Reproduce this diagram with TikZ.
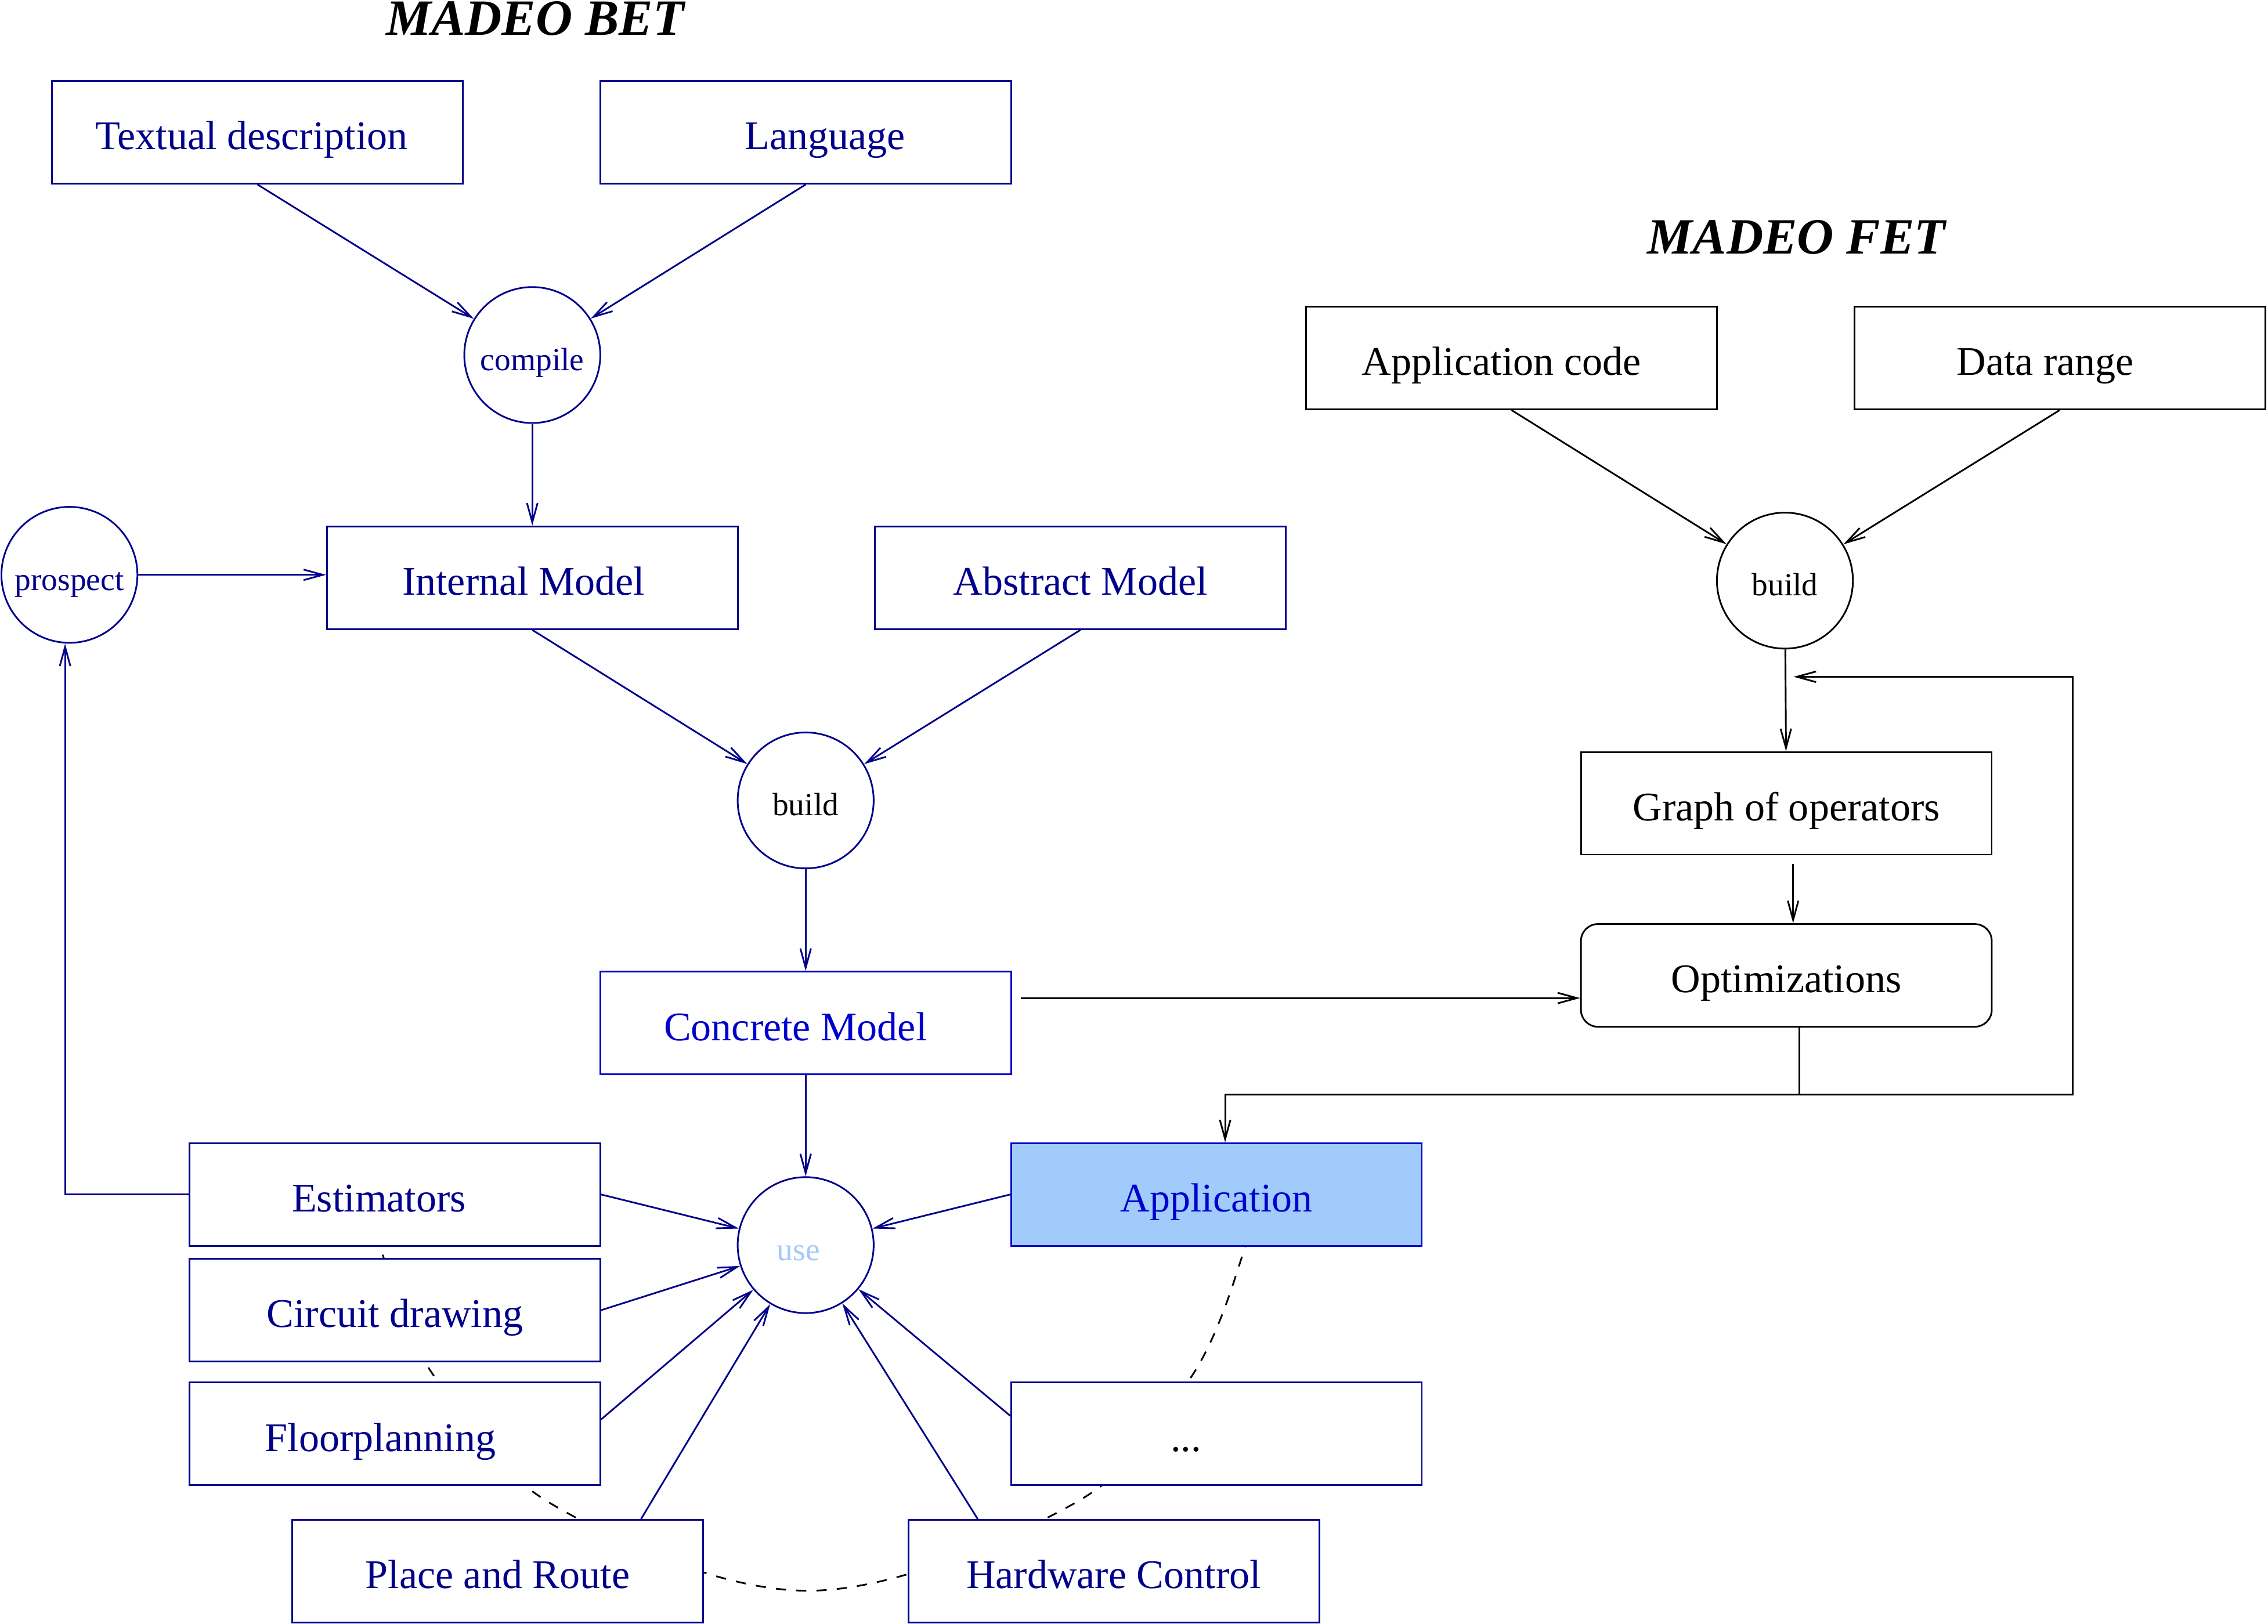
\documentclass[tikz,border=0pt]{standalone}
\usepackage{fontspec}
\setmainfont{Liberation Serif}
\usetikzlibrary{arrows.meta}
\definecolor{bet}{RGB}{0,0,139}
\definecolor{betlight}{RGB}{0,0,205}
\definecolor{appfill}{RGB}{160,203,250}
\begin{document}
\begin{tikzpicture}[x=0.015cm,y=-0.015cm,line width=0.5pt,
	box/.style={draw,fill=white,minimum width=4.26cm,minimum height=1.065cm,inner sep=0pt,text height=12pt,text depth=1.8pt,font=\fontsize{12}{14}\selectfont},
	op/.style={draw,fill=white,circle,minimum size=1.41cm,inner sep=0pt,text height=9pt,text depth=0pt,font=\fontsize{9.5}{11}\selectfont},
	title/.style={font=\fontsize{15}{18}\selectfont\bfseries\itshape},
	nudge/.style={execute at begin node={\hspace*{#1}}},
	>={Straight Barb[length=2mm,width=1.1mm]}]
	\useasboundingbox (0,0) rectangle (1568,1123);

	\draw [dashed] plot [smooth,tension=0.6] coordinates {(262,840) (265,869) (299,950) (383,1041) (559,1100) (742,1040) (823,953) (860,865) (862,840)};

	\node [title] (bettitle) at (370,13) {MADEO BET};
	\node [title] (fettitle) at (1242,164) {MADEO FET};

	\node [box,draw=bet,text=bet,nudge=-0.12cm] (text) at (178,91.5) {Textual description};
	\node [box,draw=bet,text=bet,nudge=0.4cm] (lang) at (557,91.5) {Language};
	\node [op,draw=bet,text=bet] (compile) at (368,245.5) {compile};
	\node [op,draw=bet,text=bet] (prospect) at (48,397.5) {prospect};
	\node [box,draw=bet,text=bet,nudge=-0.18cm] (internal) at (368,399.5) {Internal Model};
	\node [box,draw=bet,text=bet] (abstract) at (747,399.5) {Abstract Model};
	\node [op,draw=bet] (betbuild) at (557,553.5) {build};
	\node [box,draw=betlight,text=betlight,nudge=-0.21cm] (concrete) at (557,707.5) {Concrete Model};
	\node [op,draw=bet,text=appfill,nudge=-0.15cm] (use) at (557,861) {use};
	\node [box,draw=bet,text=bet,nudge=-0.33cm] (est) at (273,826) {Estimators};
	\node [box,draw=bet,text=bet] (circuit) at (273,906) {Circuit drawing};
	\node [box,draw=bet,text=bet,nudge=-0.3cm] (floor) at (273,991.5) {Floorplanning};
	\node [box,draw=bet,text=bet] (pnr) at (344,1086.5) {Place and Route};
	\node [box,draw=bet,text=bet] (hw) at (770,1086.5) {Hardware Control};
	\node [box,draw=bet,nudge=-0.63cm] (more) at (841,991.5) {...};
	\node [box,draw=betlight,fill=appfill,text=betlight] (app) at (841,826) {Application};

	\node [box,nudge=-0.21cm] (code) at (1045,247.5) {Application code};
	\node [box,nudge=-0.3cm] (range) at (1424,247.5) {Data range};
	\node [op] (fetbuild) at (1234,401.5) {build};
	\node [box] (graph) at (1235,555.5) {Graph of operators};
	\node [box,rounded corners=5pt] (opt) at (1235,674.5) {Optimizations};

	\draw [->,bet] (text.south) -- (compile);
	\draw [->,bet] (lang.south) -- (compile);
	\draw [->,bet] (compile) -- (internal);
	\draw [->,bet] (prospect) -- (prospect -| internal.west);
	\draw [->,bet] (internal.south) -- (betbuild);
	\draw [->,bet] (abstract.south) -- (betbuild);
	\draw [->,bet] (betbuild) -- (concrete);
	\draw [->,bet] (concrete) -- (use);
	\draw [->,bet] (est.west) -| ([xshift=-0.045cm]prospect.south);
	\draw [->,bet] (est.east) -- (use);
	\draw [->,bet] (circuit.east) -- (use);
	\draw [->,bet] (floor.4) -- (use);
	\draw [->,bet] (pnr.20) -- (use);
	\draw [->,bet] (hw.159) -- (use);
	\draw [->,bet] (more.175) -- (use);
	\draw [->,bet] (app.west) -- (use);

	\draw [->] (code.south) -- (fetbuild);
	\draw [->] (range.south) -- (fetbuild);
	\draw [->] (fetbuild) -- (graph);
	\draw [->,shorten <=0.09cm] ([xshift=0.07cm]graph.south) -- ([xshift=0.07cm]opt.north);
	\draw [->,shorten <=0.09cm] ([yshift=0.26cm]concrete.east) -- ([yshift=0.26cm]concrete.east -| opt.west);

	\coordinate (split) at (1244,757);
	\coordinate (back) at (1433,468);
	\coordinate (backtip) at (1240,468);
	\draw (split |- opt.south) -- (split);
	\draw [->] (split) -| ([xshift=0.09cm]app.north);
	\draw [->] (split) -| (back) -- (backtip);
\end{tikzpicture}
\end{document}
